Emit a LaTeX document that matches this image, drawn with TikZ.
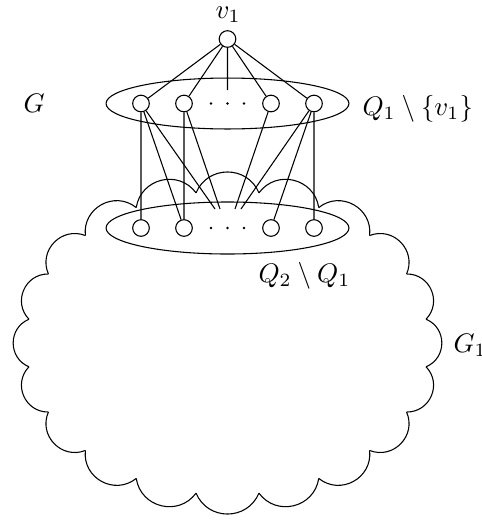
\documentclass[tikz,border=0pt]{standalone}
\usetikzlibrary{shapes.geometric}
\begin{document}
\begin{tikzpicture}[x=0.373pt,y=-0.373pt,
  vtx/.style={circle,draw,inner sep=0pt,minimum size=6.2pt},
  grp/.style={ellipse,draw,inner sep=0pt,minimum width=90.6pt},
  lbl/.style={anchor=base west,inner sep=0pt},
  dotsn/.style={circle,fill,inner sep=0pt,minimum size=1.1pt}]
\useasboundingbox (0,0) rectangle (482,522);
% cloud G1
\foreach \k in {0,...,19} {
  \pgfmathsetmacro\ta{9+18*\k}
  \pgfmathsetmacro\tb{27+18*\k}
  \draw ({227.5+201*cos(\ta)},{343+152*sin(\ta)}) to[bend left=67.5,looseness=1.23] ({227.5+201*cos(\tb)},{343+152*sin(\tb)});
}
% groups
\node[grp,minimum height=19pt] (E1) at (227.5,103.5) {};
\node[grp,minimum height=19.4pt] (E2) at (227.5,228) {};
% vertices
\node[vtx] (v) at (227.5,39) {};
\node[vtx] (a1) at (141,103.5) {};
\node[vtx] (a2) at (184,103.5) {};
\node[vtx] (a3) at (271,103.5) {};
\node[vtx] (a4) at (314,103.5) {};
\node[vtx] (b1) at (141,228) {};
\node[vtx] (b2) at (184,228) {};
\node[vtx] (b3) at (271,228) {};
\node[vtx] (b4) at (314,228) {};
\node[dotsn] (d11) at (211,103.5) {};
\node[dotsn] (d12) at (227.5,103.5) {};
\node[dotsn] (d13) at (244,103.5) {};
\node[dotsn] (d21) at (211,228) {};
\node[dotsn] (d22) at (227.5,228) {};
\node[dotsn] (d23) at (244,228) {};
% free ends
\coordinate (m0) at (227.5,90);
\coordinate (f1) at (215,209);
\coordinate (f2) at (220,209);
\coordinate (f3) at (235,209);
\coordinate (f4) at (241,209);
% edges
\draw (v) -- (a1) (v) -- (a2) (v) -- (a3) (v) -- (a4) (v) -- (m0);
\draw (a1) -- (b1) (a1) -- (b2) (a1) -- (f1);
\draw (a2) -- (b2) (a2) -- (f2);
\draw (a3) -- (f3);
\draw (a4) -- (f4) (a4) -- (b3) (a4) -- (b4);
% labels
\node[lbl] (lv) at (215,18) {$v_1$};
\node[lbl] (lG) at (23,112) {$G$};
\node[lbl] (lQ1) at (362,115) {$Q_1\setminus\{v_1\}$};
\node[lbl] (lQ2) at (258,282) {$Q_2\setminus Q_1$};
\node[lbl] (lG1) at (453,352) {$G_1$};
\end{tikzpicture}
\end{document}
